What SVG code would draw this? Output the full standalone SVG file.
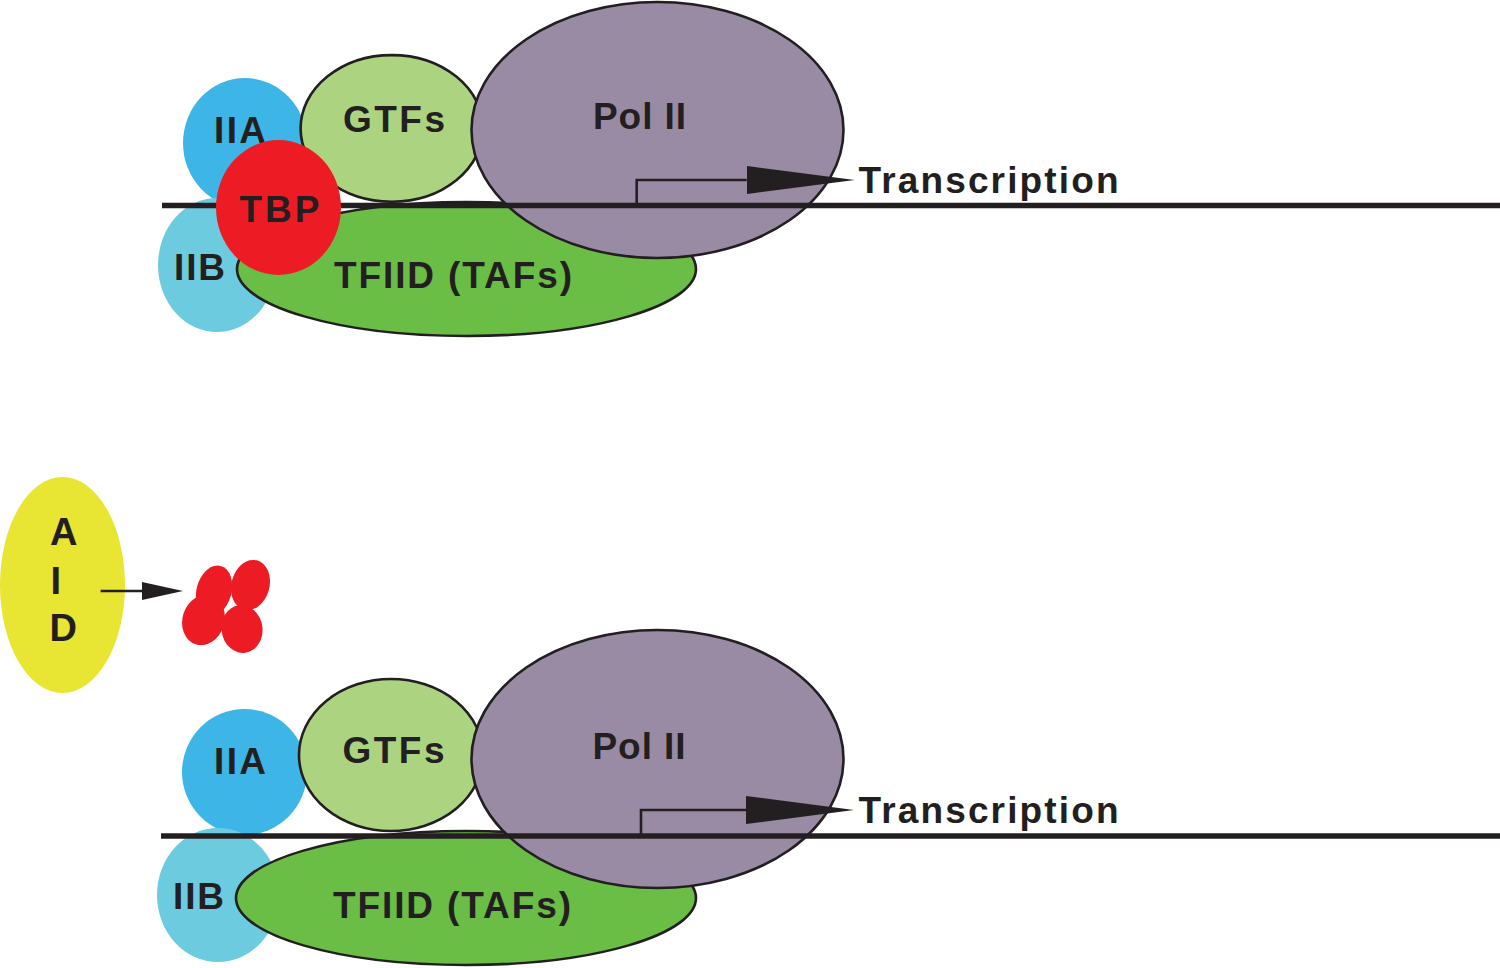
<svg xmlns="http://www.w3.org/2000/svg" width="1500" height="968" viewBox="0 0 1500 968">
<style>
  .ol { stroke: #231f20; stroke-width: 2.6; }
  .lbl { font-family: "Liberation Sans", Arial, sans-serif; font-weight: bold; font-size: 37px; fill: #231f20; text-anchor: middle; }
  .aid { font-family: "Liberation Sans", Arial, sans-serif; font-weight: bold; font-size: 38px; fill: #231f20; }
  .dna { stroke: #231f20; stroke-width: 5.5; fill: none; }
  .conn { stroke: #231f20; stroke-width: 2.6; fill: none; }
  .iia { fill: #3db5e6; }
  .iib { fill: #6dcbe0; }
  .tfiid { fill: #6abd45; }
  .gtfs { fill: #acd480; }
  .pol { fill: #9a8ba5; }
  .tbp { fill: #ed1c24; }
</style>
<defs>
  <marker id="promHead" markerUnits="userSpaceOnUse" markerWidth="110" markerHeight="30" refX="0" refY="14" orient="auto">
    <path d="M0,0 L108,14 L0,28 Z" fill="#231f20"/>
  </marker>
  <marker id="aidHead" markerUnits="userSpaceOnUse" markerWidth="42" markerHeight="20" refX="0" refY="9" orient="auto">
    <path d="M0,0 L41,9 L0,18 Z" fill="#231f20"/>
  </marker>
</defs>
<rect width="1500" height="968" fill="#ffffff"/>

<!-- Top complex -->
<g id="top-IIA"><ellipse class="iia" cx="245" cy="143" rx="62" ry="65"/><text class="lbl" x="240" y="143" textLength="52" lengthAdjust="spacing">IIA</text></g>
<g id="top-IIB"><ellipse class="iib" cx="217" cy="265" rx="59" ry="67"/><text class="lbl" x="199.5" y="279.5" textLength="51" lengthAdjust="spacing">IIB</text></g>
<g id="top-TFIID"><ellipse class="tfiid ol" cx="466.5" cy="269" rx="229.5" ry="67"/><text class="lbl" x="453" y="288" textLength="238" lengthAdjust="spacing">TFIID (TAFs)</text></g>
<g id="top-GTFs"><ellipse class="gtfs ol" cx="391.8" cy="128.4" rx="91.2" ry="73.3"/><text class="lbl" x="394" y="132" textLength="102" lengthAdjust="spacing">GTFs</text></g>
<g id="top-PolII"><ellipse class="pol ol" cx="657.5" cy="130" rx="186" ry="128"/><text class="lbl" x="639.5" y="129" textLength="93" lengthAdjust="spacing">Pol II</text></g>
<g id="top-DNA"><path class="dna" d="M162,205.5 H1500"/><text class="lbl" x="988.5" y="193" textLength="260" lengthAdjust="spacing">Transcription</text></g>
<g id="top-TBP"><ellipse class="tbp" cx="278.5" cy="207.5" rx="62.5" ry="67.5"/><text class="lbl" x="279.5" y="221.7" textLength="80" lengthAdjust="spacing">TBP</text></g>

<!-- AID and degraded TBP -->
<g id="AID"><ellipse cx="62.5" cy="585" rx="62.5" ry="108" fill="#e9e533"/>
  <text class="aid" x="50" y="545">A</text>
  <text class="aid" x="50.5" y="594">I</text>
  <text class="aid" x="49.5" y="641">D</text>
</g>
<g id="TBP-degraded" fill="#ed1c24">
  <ellipse cx="214" cy="591" rx="17.5" ry="26" transform="rotate(15 214 591)"/>
  <ellipse cx="250.5" cy="585" rx="19" ry="25.5" transform="rotate(15 250.5 585)"/>
  <ellipse cx="242" cy="629" rx="20.5" ry="24" transform="rotate(-8 242 629)"/>
  <ellipse cx="203.5" cy="620" rx="21" ry="25.5" transform="rotate(18 203.5 620)"/>
</g>

<!-- Bottom complex -->
<g id="bottom-IIA"><ellipse class="iia" cx="244.5" cy="772" rx="62.5" ry="63"/><text class="lbl" x="240" y="774" textLength="52" lengthAdjust="spacing">IIA</text></g>
<g id="bottom-IIB"><ellipse class="iib" cx="218" cy="895" rx="61" ry="67"/><text class="lbl" x="198.5" y="909" textLength="51" lengthAdjust="spacing">IIB</text></g>
<g id="bottom-TFIID"><ellipse class="tfiid ol" cx="466" cy="898" rx="230" ry="67"/><text class="lbl" x="452" y="917.5" textLength="238" lengthAdjust="spacing">TFIID (TAFs)</text></g>
<g id="bottom-GTFs"><ellipse class="gtfs ol" cx="391" cy="755" rx="92" ry="76"/><text class="lbl" x="393.5" y="763" textLength="102" lengthAdjust="spacing">GTFs</text></g>
<g id="bottom-PolII"><ellipse class="pol ol" cx="657.5" cy="759" rx="186" ry="129"/><text class="lbl" x="639" y="758.5" textLength="93" lengthAdjust="spacing">Pol II</text></g>
<g id="bottom-DNA"><path class="dna" d="M161,836 H1500"/><text class="lbl" x="988.5" y="823" textLength="260" lengthAdjust="spacing">Transcription</text></g>

<!-- Connectors -->
<g id="connectors">
  <path class="conn" d="M636.7,205.5 V180 H746.7" marker-end="url(#promHead)"/>
  <path class="conn" d="M641,836 V810 H746" marker-end="url(#promHead)"/>
  <path class="conn" d="M100.6,591 H142" marker-end="url(#aidHead)"/>
</g>
</svg>
